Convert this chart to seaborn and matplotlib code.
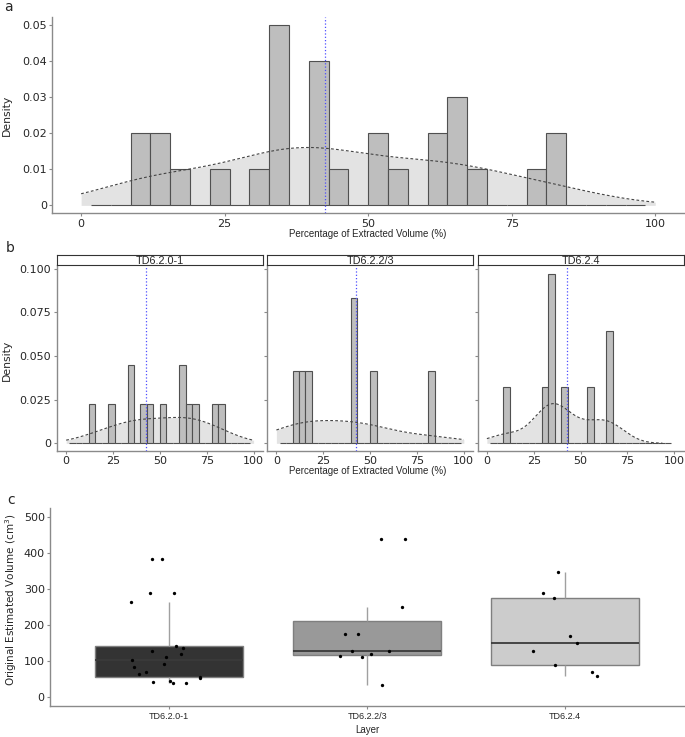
import numpy as np
import pandas as pd
import seaborn as sns
import matplotlib.pyplot as plt

layers = ["TD6.2.0-1", "TD6.2.2/3", "TD6.2.4"]

# percentage of extracted volume, per layer
pct_td620 = [14.3, 24.0, 33.5, 35.0, 41.0, 44.8, 51.5, 61.5, 62.8, 65.0, 68.5, 79.0, 82.5]
pct_td622 = [10.5, 13.2, 17.0, 40.5, 42.5, 52.0, 83.0]
pct_td624 = [10.0, 31.0, 33.8, 34.5, 35.5, 42.9, 55.0, 64.5, 66.0]

# original estimated volume (cm3), per layer
vol_td620 = [39, 39, 41, 42, 52, 55, 62, 69, 82, 90, 101, 110, 118, 126, 135, 141,
             264, 287, 287, 383, 383]
vol_td622 = [32, 111, 113, 119, 127, 127, 174, 174, 248, 437, 437]
vol_td624 = [57, 67, 88, 127, 148, 169, 273, 289, 345]

box_colors = ["#333333", "#999999", "#cccccc"]

pct_groups = [pct_td620, pct_td622, pct_td624]
vol_groups = [vol_td620, vol_td622, vol_td624]
pct = pd.DataFrame({"layer": np.repeat(layers, [len(g) for g in pct_groups]),
                    "pct": np.concatenate(pct_groups)})
vol = pd.DataFrame({"layer": np.repeat(layers, [len(g) for g in vol_groups]),
                    "volume": np.concatenate(vol_groups)})
median_pct = np.median(pct["pct"])

# 30 ggplot-style bins over 0-100, the ones outside the limits dropped
bw = 100 / 29
edges = np.arange(bw / 2, 100, bw)

sns.set_style("white")
plt.rcParams["font.family"] = ["DejaVu Sans"]

AX_COL = "#8a8a8a"


def style(ax):
    sns.despine(ax=ax)
    for s in ["left", "bottom"]:
        ax.spines[s].set_color(AX_COL)
        ax.spines[s].set_linewidth(1.0)
    ax.tick_params(color=AX_COL, length=2.5, width=0.8, labelsize=8, pad=1.5,
                   left=True, bottom=True)
    ax.set_xlabel("")
    ax.set_ylabel("")


def hist_density(ax, data, adj=1.0):
    sns.kdeplot(x=data, clip=(0, 100), fill=True, color="#e3e3e3", alpha=1,
                linewidth=0, bw_adjust=adj, ax=ax)
    sns.histplot(x=data, bins=edges, stat="density", color="#bebebe", alpha=1,
                 edgecolor="#505050", linewidth=0.8, ax=ax)
    sns.kdeplot(x=data, clip=(0, 100), color="#444444", linestyle=(0, (2.5, 2)),
                linewidth=0.8, bw_adjust=adj, ax=ax)
    ax.axvline(median_pct, color="#4d4dff", linestyle=":", linewidth=0.9, zorder=5)
    ax.set_xlim(-5, 105)
    ax.set_xticks([0, 25, 50, 75, 100])
    style(ax)


fig = plt.figure(figsize=(6.85, 7.37), dpi=100)

# panel a
ax_a = fig.add_axes([0.0765, 0.7106, 0.922, 0.2667])
hist_density(ax_a, pct["pct"], 0.95)
ax_a.set_ylim(-0.0022, 0.0524)
ax_a.set_yticks([0, 0.01, 0.02, 0.03, 0.04, 0.05])
ax_a.set_yticklabels(["0", "0.01", "0.02", "0.03", "0.04", "0.05"])

# panel b
lefts = [0.0829, 0.3898, 0.6971]
adjs = [1.0, 1.0, 0.8]
for i, lay in enumerate(layers):
    ax = fig.add_axes([lefts[i], 0.3885, 0.301, 0.2519])
    hist_density(ax, pct.loc[pct["layer"] == lay, "pct"], adjs[i])
    ax.set_ylim(-0.0042, 0.102)
    ax.set_yticks([0, 0.025, 0.05, 0.075, 0.1])
    if i == 0:
        ax.set_yticklabels(["0", "0.025", "0.050", "0.075", "0.100"])
    else:
        ax.set_yticklabels([])
    strip = fig.add_axes([lefts[i], 0.6404, 0.301, 0.0136])
    strip.set_xticks([])
    strip.set_yticks([])
    for s in strip.spines.values():
        s.set_color("#333333")
        s.set_linewidth(0.8)
    strip.text(0.5, 0.45, lay, ha="center", va="center", fontsize=7.8,
               family="Liberation Sans", transform=strip.transAxes)

# panel c
ax_c = fig.add_axes([0.0734, 0.0421, 0.925, 0.2686])
sns.boxplot(data=vol, x="layer", y="volume", hue="layer", order=layers,
            palette=box_colors, saturation=1, width=0.75, showfliers=False,
            showcaps=False, linecolor="#7f7f7f", linewidth=1, legend=False,
            whiskerprops={"color": "#a0a0a0"},
            medianprops={"color": "#3a3a3a", "linewidth": 1.3}, ax=ax_c)
np.random.seed(3)
sns.stripplot(data=vol, x="layer", y="volume", order=layers, color="black",
              size=2.4, jitter=0.2, ax=ax_c)
ax_c.set_xlim(-0.6, 2.6)
ax_c.set_ylim(-26, 524)
ax_c.set_yticks([0, 100, 200, 300, 400, 500])
style(ax_c)
for lbl in ax_c.get_xticklabels():
    lbl.set_family("Liberation Sans")
    lbl.set_fontsize(6.5)

# labels
fig.text(0.006, 1.0, "a", fontsize=10, va="top")
fig.text(0.009, 0.664, "b", fontsize=10, va="center")
fig.text(0.011, 0.3216, "c", fontsize=10, va="center")
fig.text(0.0105, 0.844, "Density", rotation=90, ha="center", va="center", fontsize=7.8)
fig.text(0.0105, 0.5115, "Density", rotation=90, ha="center", va="center", fontsize=7.8)
fig.text(0.016, 0.186, "Original Estimated Volume (cm$^3$)", rotation=90,
         ha="center", va="center", fontsize=7.5)
fig.text(0.537, 0.682, "Percentage of Extracted Volume (%)", ha="center",
         va="center", fontsize=7, family="Liberation Sans")
fig.text(0.537, 0.3616, "Percentage of Extracted Volume (%)", ha="center",
         va="center", fontsize=7, family="Liberation Sans")
fig.text(0.537, 0.0095, "Layer", ha="center", va="center", fontsize=7,
         family="Liberation Sans")

fig.savefig("out.png", dpi=100)
